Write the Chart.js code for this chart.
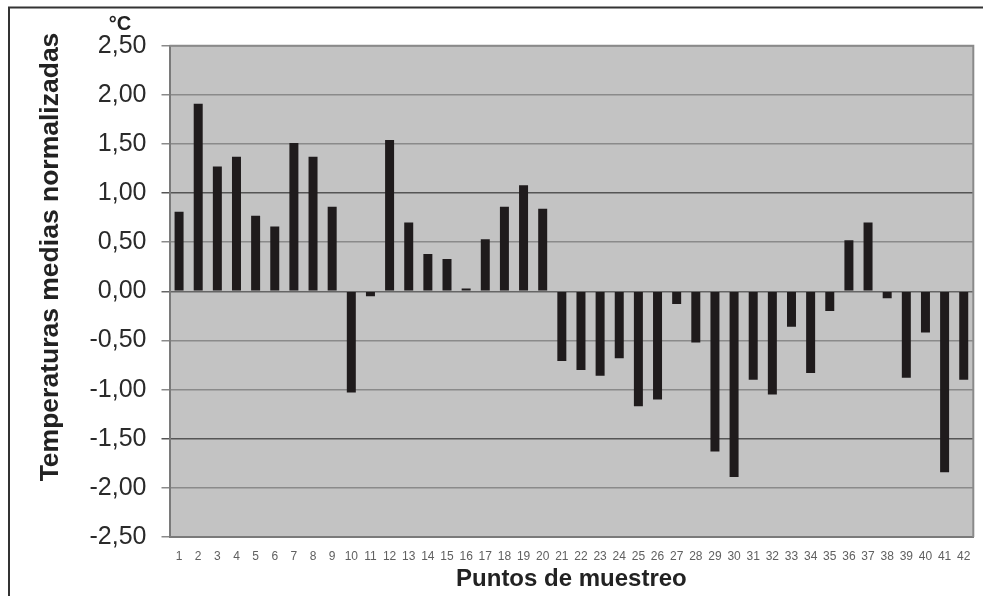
<!DOCTYPE html>
<html>
<head>
<meta charset="utf-8">
<script src="https://cdn.jsdelivr.net/npm/chart.js@4/dist/chart.umd.min.js"></script>
<style>
  html, body { margin: 0; padding: 0; background: #ffffff; }
  #wrap { width: 983px; height: 596px; position: relative; }
</style>
</head>
<body>
<div id="wrap"><canvas id="c" width="983" height="596"></canvas></div>
<script>
// ---- data ----
const categories = ['1','2','3','4','5','6','7','8','9','10','11','12','13','14','15','16','17','18','19','20','21','22','23','24','25','26','27','28','29','30','31','32','33','34','35','36','37','38','39','40','41','42'];
const temperatures = [0.81, 1.91, 1.27, 1.37, 0.77, 0.66, 1.51, 1.37, 0.86, -1.03,
                      -0.05, 1.54, 0.70, 0.38, 0.33, 0.03, 0.53, 0.86, 1.08, 0.84,
                      -0.71, -0.80, -0.86, -0.68, -1.17, -1.10, -0.13, -0.52, -1.63, -1.89,
                      -0.90, -1.05, -0.36, -0.83, -0.20, 0.52, 0.70, -0.07, -0.88, -0.42,
                      -1.84, -0.90];
const yMin = -2.5, yMax = 2.5, yStep = 0.5;
const yTitle = 'Temperaturas medias normalizadas';
const xTitle = 'Puntos de muestreo';
const unitLabel = '°C';

const decorPlugin = {
  id: 'decor',
  beforeDraw(chart) {
    const { ctx, chartArea: a } = chart;
    ctx.save();
    ctx.fillStyle = '#c3c3c3';
    ctx.fillRect(a.left, a.top, a.right - a.left, a.bottom - a.top);
    ctx.restore();
  },
  afterDraw(chart) {
    const { ctx, chartArea: a } = chart;
    ctx.save();
    // plot frame top & right
    ctx.strokeStyle = '#8a8a8a';
    ctx.lineWidth = 2;
    ctx.beginPath();
    ctx.moveTo(a.left, a.top);
    ctx.lineTo(a.right, a.top);
    ctx.lineTo(a.right, a.bottom);
    ctx.stroke();
    // outer figure frame (top and left)
    ctx.strokeStyle = '#333333';
    ctx.lineWidth = 2;
    ctx.beginPath();
    ctx.moveTo(9, 596);
    ctx.lineTo(9, 7.5);
    ctx.lineTo(983, 7.5);
    ctx.stroke();
    // y title
    ctx.fillStyle = '#222222';
    ctx.font = 'bold 26.5px "Liberation Sans", Arial, sans-serif';
    ctx.textAlign = 'center';
    ctx.textBaseline = 'alphabetic';
    ctx.save();
    ctx.translate(58, 257);
    ctx.rotate(-Math.PI / 2);
    ctx.fillText(yTitle, 0, 0);
    ctx.restore();
    // x title
    ctx.font = 'bold 24px "Liberation Sans", Arial, sans-serif';
    ctx.fillText(xTitle, (a.left + a.right) / 2, 586);
    // unit
    ctx.font = 'bold 20px "Liberation Sans", Arial, sans-serif';
    ctx.fillText(unitLabel, 120, 29.5);
    ctx.restore();
  }
};

new Chart(document.getElementById('c'), {
  type: 'bar',
  data: {
    labels: categories,
    datasets: [{
      data: temperatures,
      backgroundColor: '#1f1b1c',
      borderWidth: 0,
      categoryPercentage: 1.0,
      barPercentage: 0.47
    }]
  },
  options: {
    responsive: false,
    animation: false,
    devicePixelRatio: 1,
    layout: { padding: { top: 45.7, right: 7.3, left: 0, bottom: 0 } },
    plugins: { legend: { display: false }, tooltip: { enabled: false }, title: { display: false } },
    scales: {
      x: {
        grid: { display: false, drawTicks: false },
        border: { display: true, color: '#7a7a7a', width: 2 },
        ticks: {
          color: '#606060',
          font: { size: 12, family: '"Liberation Sans", Arial, sans-serif' },
          padding: 12.5,
          maxRotation: 0,
          autoSkip: false
        },
        afterFit(scale) { scale.height = 59; }
      },
      y: {
        min: yMin,
        max: yMax,
        grid: {
          color(ctx) {
            const v = ctx.tick ? ctx.tick.value : null;
            if (v === 1 || v === -1.5) return '#555555';
            if (v === 0) return '#666666';
            return '#8a8a8a';
          },
          lineWidth: 1.5,
          tickLength: 8,
          drawTicks: true
        },
        border: { display: true, color: '#7a7a7a', width: 2 },
        ticks: {
          stepSize: yStep,
          color: '#2a2a2a',
          padding: 15,
          font: { size: 25, family: '"Liberation Sans", Arial, sans-serif' },
          callback: (v) => Number(v).toFixed(2).replace('.', ',')
        },
        afterFit(scale) { scale.width = 169.5; }
      }
    }
  },
  plugins: [decorPlugin]
});
</script>
</body>
</html>
